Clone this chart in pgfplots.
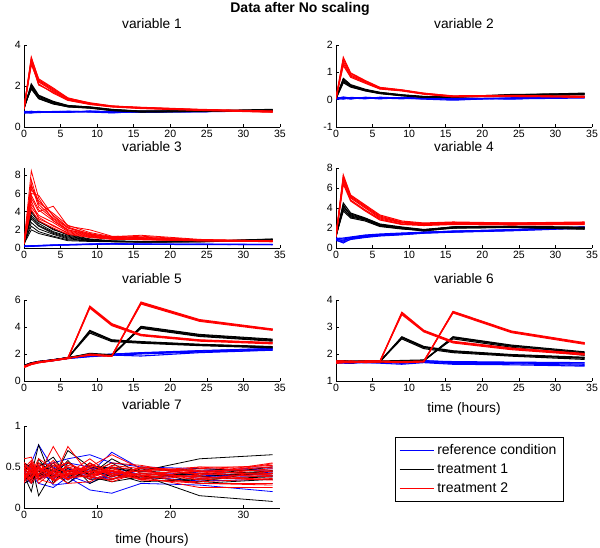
\documentclass[border=0pt]{standalone}
\usepackage{fontspec}
\setmainfont{Liberation Sans}
\usepackage{pgfplots}
\usepackage{pgfplotstable}
\pgfplotsset{compat=1.18}

\pgfplotsset{
  mstyle/.style={
    scale only axis, width=192pt,
    axis x line*=bottom, axis y line*=left, axis line style={-, line width=0.5pt},
    tick align=inside, major tick length=2.2pt, tick style={line width=0.5pt, black},
    xmin=0, xmax=35, xtick={0,5,...,35},
    /pgf/number format/assume math mode=true,
    tick label style={font=\fontsize{7.9}{8}\selectfont},
    xticklabel style={yshift=1pt}, yticklabel style={xshift=1pt},
    title style={at={(0.5,1)}, anchor=base, yshift=6.5pt, font=\fontsize{10.3}{11}\selectfont},
    label style={font=\fontsize{10.3}{11}\selectfont},
    xlabel style={yshift=-1pt},
    every axis plot/.append style={line width=0.8pt},
  },
}

% time points: 0 1 2 4 6 9 12 16 24 34
% ---------------- variable 1
\pgfplotstableread[row sep=\\]{
t c1 c2 c3 c4 c5 c6 \\
0 0.70 0.74 0.76 0.68 0.72 0.75 \\
1 0.68 0.72 0.75 0.70 0.77 0.73 \\
2 0.72 0.70 0.74 0.75 0.71 0.76 \\
4 0.74 0.76 0.73 0.72 0.75 0.71 \\
6 0.73 0.75 0.77 0.71 0.76 0.74 \\
9 0.75 0.77 0.74 0.78 0.73 0.76 \\
12 0.70 0.73 0.72 0.75 0.69 0.74 \\
16 0.74 0.76 0.77 0.73 0.75 0.72 \\
24 0.76 0.75 0.78 0.74 0.77 0.75 \\
34 0.78 0.80 0.76 0.79 0.77 0.81 \\
}\VOneB
\pgfplotstableread[row sep=\\]{
t c1 c2 c3 c4 c5 c6 \\
0 0.90 0.95 1.00 0.92 0.98 0.88 \\
1 2.10 1.95 1.85 2.05 1.90 2.00 \\
2 1.55 1.45 1.40 1.50 1.38 1.52 \\
4 1.25 1.18 1.15 1.22 1.12 1.20 \\
6 1.05 1.00 0.98 1.04 0.99 1.03 \\
9 0.97 0.94 0.92 0.96 0.93 0.98 \\
12 0.85 0.82 0.80 0.84 0.81 0.86 \\
16 0.78 0.75 0.74 0.77 0.73 0.76 \\
24 0.78 0.76 0.75 0.79 0.77 0.78 \\
34 0.84 0.80 0.83 0.86 0.79 0.82 \\
}\VOneK
\pgfplotstableread[row sep=\\]{
t c1 c2 c3 c4 c5 c6 \\
0 0.88 0.92 0.95 0.90 0.86 0.93 \\
1 3.40 3.25 3.10 3.35 3.20 3.05 \\
2 2.30 2.20 2.10 2.35 2.05 2.25 \\
4 1.85 1.75 1.65 1.90 1.70 1.80 \\
6 1.40 1.35 1.30 1.42 1.32 1.38 \\
9 1.18 1.14 1.10 1.16 1.12 1.15 \\
12 1.03 1.00 0.98 1.02 0.99 1.01 \\
16 0.95 0.93 0.90 0.94 0.92 0.96 \\
24 0.85 0.83 0.81 0.84 0.82 0.86 \\
34 0.77 0.74 0.72 0.76 0.73 0.78 \\
}\VOneR
% ---------------- variable 2
\pgfplotstableread[row sep=\\]{
t c1 c2 c3 c4 c5 \\
0 0.05 0.02 0.08 0.04 0.06 \\
1 0.08 0.03 0.05 0.10 0.02 \\
2 0.04 0.07 0.02 0.06 0.08 \\
4 0.06 0.05 0.09 0.03 0.07 \\
6 0.07 0.04 0.06 0.09 0.03 \\
9 0.05 0.08 0.03 0.06 0.07 \\
12 0.03 0.06 0.07 0.02 0.05 \\
16 0.04 0.00 0.05 -0.02 0.06 \\
24 0.06 0.05 0.03 0.07 0.02 \\
34 0.08 0.10 0.06 0.09 0.12 \\
}\VTwoB
\pgfplotstableread[row sep=\\]{
t c1 c2 c3 c4 c5 \\
0 0.05 0.08 0.03 0.06 0.04 \\
1 0.78 0.70 0.62 0.75 0.66 \\
2 0.55 0.50 0.46 0.52 0.48 \\
4 0.38 0.35 0.32 0.36 0.33 \\
6 0.27 0.24 0.22 0.26 0.23 \\
9 0.18 0.15 0.14 0.17 0.16 \\
12 0.12 0.10 0.08 0.11 0.09 \\
16 0.08 0.11 0.12 0.09 0.10 \\
24 0.18 0.15 0.14 0.17 0.19 \\
34 0.22 0.20 0.18 0.24 0.21 \\
}\VTwoK
\pgfplotstableread[row sep=\\]{
t c1 c2 c3 c4 c5 \\
0 0.06 0.04 0.08 0.05 0.03 \\
1 1.55 1.40 1.25 1.48 1.32 \\
2 0.98 0.90 0.82 0.95 0.86 \\
4 0.70 0.66 0.60 0.68 0.63 \\
6 0.45 0.42 0.39 0.44 0.40 \\
9 0.36 0.34 0.32 0.35 0.33 \\
12 0.24 0.22 0.20 0.23 0.21 \\
16 0.13 0.11 0.10 0.14 0.12 \\
24 0.15 0.12 0.14 0.16 0.11 \\
34 0.12 0.09 0.08 0.11 0.13 \\
}\VTwoR
% ---------------- variable 3
\pgfplotstableread[row sep=\\]{
t c1 c2 c3 c4 \\
0 0.15 0.22 0.18 0.25 \\
1 0.18 0.20 0.25 0.22 \\
2 0.22 0.26 0.24 0.28 \\
4 0.28 0.31 0.30 0.34 \\
6 0.33 0.36 0.38 0.35 \\
9 0.38 0.42 0.40 0.44 \\
12 0.45 0.48 0.43 0.47 \\
16 0.42 0.40 0.44 0.39 \\
24 0.40 0.38 0.42 0.41 \\
34 0.37 0.40 0.36 0.39 \\
}\VThrB
\pgfplotstableread[row sep=\\]{
t c1 c2 c3 c4 c5 c6 c7 c8 \\
0 0.50 0.40 0.60 0.30 0.50 0.40 0.45 0.55 \\
1 4.10 3.60 3.20 2.80 2.40 3.90 2.00 3.40 \\
2 3.00 2.70 2.40 2.10 1.80 2.90 1.60 2.50 \\
4 2.00 1.80 1.60 1.50 1.30 2.10 1.20 1.70 \\
6 1.50 1.30 1.10 1.00 0.90 1.40 0.80 1.20 \\
9 1.00 0.90 0.85 0.80 0.78 0.95 0.72 0.88 \\
12 0.80 0.75 0.70 0.72 0.70 0.78 0.68 0.74 \\
16 0.70 0.70 0.68 0.66 0.65 0.72 0.64 0.69 \\
24 0.75 0.72 0.70 0.68 0.70 0.74 0.66 0.71 \\
34 1.00 0.95 0.90 0.85 0.92 0.98 0.88 0.95 \\
}\VThrK
\pgfplotstableread[row sep=\\]{
t c1 c2 c3 c4 c5 c6 c7 c8 c9 c10 c11 c12 \\
0 0.60 0.50 0.70 0.40 0.60 0.50 0.55 0.45 0.65 0.50 0.60 0.40 \\
1 8.50 6.00 5.50 7.00 4.80 6.50 5.20 7.50 4.20 5.80 6.80 4.50 \\
2 5.50 5.80 4.00 4.50 3.60 5.00 3.20 4.80 3.00 4.20 5.20 3.40 \\
4 3.00 3.50 4.60 3.20 2.80 3.80 2.50 3.30 2.20 3.00 3.60 2.40 \\
6 2.00 2.20 2.40 2.00 1.80 2.50 1.60 2.20 1.50 1.90 2.30 1.70 \\
9 1.50 1.60 2.00 1.40 1.30 1.70 1.20 1.45 1.15 1.35 1.55 1.25 \\
12 1.20 1.10 1.30 1.15 1.00 1.25 1.00 1.10 0.95 1.05 1.20 1.00 \\
16 1.00 1.30 1.20 1.10 0.95 1.40 0.90 1.05 0.92 1.00 1.15 0.98 \\
24 0.85 0.90 0.88 0.82 0.80 0.95 0.78 0.86 0.80 0.84 0.90 0.82 \\
34 0.75 0.80 0.72 0.70 0.68 0.78 0.70 0.74 0.72 0.76 0.80 0.73 \\
}\VThrR
% ---------------- variable 4
\pgfplotstableread[row sep=\\]{
t c1 c2 c3 c4 c5 c6 \\
0 0.80 0.90 1.00 0.85 0.95 0.75 \\
1 0.50 0.70 0.90 0.80 1.00 0.60 \\
2 0.90 1.00 1.05 0.95 1.10 0.85 \\
4 1.10 1.20 1.25 1.15 1.30 1.05 \\
6 1.25 1.30 1.35 1.28 1.40 1.20 \\
9 1.35 1.45 1.40 1.38 1.50 1.32 \\
12 1.50 1.55 1.60 1.52 1.58 1.48 \\
16 1.60 1.70 1.65 1.62 1.68 1.58 \\
24 1.75 1.80 1.85 1.78 1.82 1.72 \\
34 2.00 2.10 2.05 2.08 2.12 1.98 \\
}\VFouB
\pgfplotstableread[row sep=\\]{
t c1 c2 c3 c4 c5 c6 \\
0 1.20 1.10 1.30 1.15 1.25 1.20 \\
1 4.50 4.20 3.90 4.00 3.70 4.30 \\
2 3.50 3.30 3.10 3.40 3.00 3.20 \\
4 3.00 2.90 2.80 2.95 2.70 2.85 \\
6 2.40 2.30 2.20 2.35 2.15 2.25 \\
9 2.10 2.00 1.95 2.05 1.90 2.00 \\
12 1.85 1.80 1.70 1.82 1.75 1.78 \\
16 2.10 2.05 2.00 2.08 1.98 2.12 \\
24 2.15 2.10 2.05 2.12 2.08 2.18 \\
34 2.05 1.95 1.90 2.02 1.88 2.08 \\
}\VFouK
\pgfplotstableread[row sep=\\]{
t c1 c2 c3 c4 c5 c6 \\
0 1.20 1.10 1.30 1.15 1.25 1.20 \\
1 7.30 7.00 6.60 6.80 6.40 7.10 \\
2 5.30 5.10 4.80 5.00 4.70 5.20 \\
4 4.30 4.10 3.80 4.00 3.70 4.20 \\
6 3.30 3.10 2.90 3.00 2.80 3.20 \\
9 2.70 2.55 2.40 2.50 2.35 2.60 \\
12 2.50 2.40 2.30 2.35 2.25 2.45 \\
16 2.60 2.50 2.40 2.45 2.35 2.55 \\
24 2.50 2.45 2.35 2.40 2.30 2.50 \\
34 2.60 2.50 2.40 2.45 2.35 2.55 \\
}\VFouR
% ---------------- variable 5
\pgfplotstableread[row sep=\\]{
t c1 c2 c3 c4 c5 \\
0 1.10 1.05 1.15 1.08 1.12 \\
1 1.30 1.25 1.35 1.28 1.32 \\
2 1.40 1.38 1.45 1.42 1.36 \\
4 1.55 1.52 1.58 1.50 1.56 \\
6 1.70 1.66 1.72 1.68 1.74 \\
9 1.85 1.80 1.88 1.82 1.86 \\
12 1.95 1.90 1.98 1.92 2.00 \\
16 2.05 2.00 2.10 1.85 2.08 \\
24 2.20 2.15 2.25 2.10 2.22 \\
34 2.35 2.30 2.40 2.28 2.42 \\
}\VFivB
\pgfplotstableread[row sep=\\]{
t c1 c2 c3 c4 c5 c6 c7 c8 \\
0 1.10 1.05 1.15 1.12 1.10 1.05 1.15 1.12 \\
1 1.30 1.28 1.35 1.32 1.30 1.28 1.35 1.32 \\
2 1.40 1.38 1.42 1.45 1.40 1.38 1.42 1.45 \\
4 1.55 1.52 1.58 1.56 1.55 1.52 1.58 1.56 \\
6 1.70 1.68 1.72 1.74 1.70 1.68 1.72 1.74 \\
9 3.75 3.65 3.55 3.70 2.00 1.95 2.05 1.98 \\
12 3.05 2.98 2.92 3.02 1.90 1.85 1.95 1.92 \\
16 2.92 2.85 2.80 2.88 4.05 3.95 3.90 4.00 \\
24 2.72 2.66 2.62 2.70 3.45 3.35 3.30 3.40 \\
34 2.55 2.48 2.45 2.52 3.10 3.00 2.95 3.05 \\
}\VFivK
\pgfplotstableread[row sep=\\]{
t c1 c2 c3 c4 c5 c6 c7 c8 \\
0 1.05 1.10 1.00 1.08 1.05 1.10 1.00 1.08 \\
1 1.25 1.30 1.22 1.28 1.25 1.30 1.22 1.28 \\
2 1.38 1.42 1.35 1.40 1.38 1.42 1.35 1.40 \\
4 1.52 1.55 1.50 1.54 1.52 1.55 1.50 1.54 \\
6 1.68 1.72 1.66 1.70 1.68 1.72 1.66 1.70 \\
9 5.55 5.45 5.40 5.50 1.95 1.90 2.00 1.92 \\
12 4.25 4.15 4.10 4.20 1.85 1.82 1.88 1.84 \\
16 3.45 3.40 3.35 3.42 5.85 5.75 5.70 5.80 \\
24 3.05 3.00 2.95 3.02 4.55 4.48 4.42 4.50 \\
34 2.85 2.80 2.75 2.82 3.85 3.80 3.75 3.82 \\
}\VFivR
% ---------------- variable 6
\pgfplotstableread[row sep=\\]{
t c1 c2 c3 c4 c5 \\
0 1.70 1.65 1.72 1.68 1.74 \\
1 1.72 1.68 1.70 1.66 1.73 \\
2 1.68 1.70 1.72 1.65 1.71 \\
4 1.70 1.67 1.73 1.69 1.72 \\
6 1.72 1.68 1.70 1.66 1.71 \\
9 1.65 1.70 1.68 1.62 1.69 \\
12 1.72 1.70 1.74 1.68 1.76 \\
16 1.68 1.65 1.72 1.62 1.70 \\
24 1.67 1.64 1.70 1.60 1.68 \\
34 1.62 1.58 1.68 1.55 1.66 \\
}\VSixB
\pgfplotstableread[row sep=\\]{
t c1 c2 c3 c4 c5 c6 c7 c8 \\
0 1.70 1.68 1.74 1.72 1.70 1.68 1.74 1.72 \\
1 1.72 1.70 1.75 1.73 1.72 1.70 1.75 1.73 \\
2 1.70 1.68 1.72 1.74 1.70 1.68 1.72 1.74 \\
4 1.72 1.70 1.74 1.73 1.72 1.70 1.74 1.73 \\
6 1.72 1.70 1.74 1.73 1.72 1.70 1.74 1.73 \\
9 2.64 2.60 2.56 2.62 1.74 1.72 1.76 1.73 \\
12 2.28 2.24 2.20 2.26 1.76 1.74 1.78 1.75 \\
16 2.12 2.08 2.05 2.10 2.64 2.60 2.56 2.62 \\
24 1.98 1.95 1.92 1.96 2.33 2.29 2.25 2.30 \\
34 1.88 1.84 1.80 1.86 2.08 2.03 1.95 2.05 \\
}\VSixK
\pgfplotstableread[row sep=\\]{
t c1 c2 c3 c4 c5 c6 c7 c8 \\
0 1.70 1.66 1.74 1.68 1.70 1.66 1.74 1.68 \\
1 1.72 1.68 1.74 1.70 1.72 1.68 1.74 1.70 \\
2 1.70 1.68 1.72 1.74 1.70 1.68 1.72 1.74 \\
4 1.72 1.70 1.74 1.68 1.72 1.70 1.74 1.68 \\
6 1.72 1.70 1.74 1.73 1.72 1.70 1.74 1.73 \\
9 3.55 3.50 3.46 3.52 1.70 1.68 1.72 1.71 \\
12 2.88 2.85 2.82 2.86 1.72 1.70 1.74 1.73 \\
16 2.47 2.44 2.41 2.45 3.58 3.55 3.52 3.56 \\
24 2.22 2.19 2.16 2.20 2.85 2.82 2.79 2.83 \\
34 2.02 1.99 1.96 2.00 2.42 2.39 2.36 2.40 \\
}\VSixR
% ---------------- variable 7
\pgfplotstableread[row sep=\\]{
t c1 c2 c3 c4 c5 c6 c7 c8 c9 c10 \\
0 0.42 0.35 0.50 0.38 0.45 0.30 0.55 0.40 0.48 0.33 \\
1 0.55 0.40 0.45 0.30 0.50 0.35 0.48 0.42 0.38 0.45 \\
2 0.77 0.30 0.52 0.42 0.40 0.45 0.38 0.50 0.35 0.48 \\
4 0.48 0.25 0.55 0.40 0.35 0.50 0.45 0.28 0.42 0.38 \\
6 0.45 0.38 0.60 0.35 0.48 0.42 0.55 0.30 0.50 0.40 \\
9 0.40 0.22 0.65 0.45 0.42 0.38 0.50 0.48 0.35 0.30 \\
12 0.42 0.18 0.55 0.40 0.68 0.35 0.45 0.50 0.38 0.44 \\
16 0.45 0.30 0.50 0.38 0.48 0.42 0.35 0.40 0.46 0.36 \\
24 0.40 0.28 0.48 0.33 0.45 0.38 0.42 0.30 0.36 0.44 \\
34 0.38 0.20 0.45 0.35 0.50 0.42 0.40 0.30 0.44 0.48 \\
}\VSevB
\pgfplotstableread[row sep=\\]{
t c1 c2 c3 c4 c5 c6 c7 c8 c9 c10 \\
0 0.40 0.45 0.35 0.50 0.30 0.55 0.42 0.38 0.48 0.33 \\
1 0.20 0.55 0.40 0.45 0.35 0.50 0.30 0.48 0.38 0.42 \\
2 0.60 0.15 0.77 0.40 0.45 0.35 0.50 0.42 0.55 0.38 \\
4 0.35 0.45 0.30 0.55 0.40 0.48 0.62 0.38 0.45 0.52 \\
6 0.70 0.40 0.55 0.35 0.48 0.45 0.38 0.58 0.30 0.42 \\
9 0.50 0.45 0.40 0.55 0.35 0.42 0.48 0.30 0.52 0.38 \\
12 0.45 0.50 0.60 0.40 0.35 0.55 0.38 0.42 0.48 0.32 \\
16 0.40 0.45 0.42 0.38 0.48 0.35 0.50 0.32 0.44 0.38 \\
24 0.15 0.60 0.38 0.42 0.30 0.45 0.40 0.35 0.48 0.32 \\
34 0.08 0.65 0.45 0.40 0.35 0.42 0.50 0.38 0.44 0.46 \\
}\VSevK
\pgfplotstableread[row sep=\\]{
t c1 c2 c3 c4 c5 c6 c7 c8 c9 c10 c11 c12 c13 c14 c15 c16 c17 c18 c19 c20 \\
0 0.60 0.40 0.45 0.35 0.50 0.30 0.55 0.42 0.38 0.48 0.36 0.44 0.52 0.34 0.46 0.40 0.56 0.32 0.48 0.38 \\
1 0.62 0.35 0.50 0.45 0.38 0.55 0.42 0.30 0.48 0.40 0.52 0.36 0.44 0.48 0.32 0.56 0.42 0.38 0.58 0.46 \\
2 0.40 0.50 0.30 0.55 0.45 0.35 0.60 0.42 0.38 0.48 0.36 0.52 0.40 0.46 0.55 0.34 0.48 0.42 0.38 0.50 \\
4 0.75 0.35 0.45 0.40 0.55 0.30 0.48 0.50 0.38 0.42 0.45 0.33 0.48 0.52 0.38 0.44 0.36 0.58 0.46 0.34 \\
6 0.45 0.75 0.35 0.50 0.40 0.45 0.38 0.55 0.42 0.30 0.50 0.40 0.36 0.44 0.52 0.34 0.46 0.40 0.56 0.42 \\
9 0.50 0.40 0.55 0.35 0.45 0.48 0.38 0.42 0.60 0.32 0.44 0.50 0.40 0.36 0.46 0.52 0.40 0.54 0.38 0.44 \\
12 0.65 0.45 0.38 0.50 0.42 0.35 0.48 0.55 0.40 0.45 0.32 0.40 0.46 0.52 0.36 0.44 0.50 0.42 0.34 0.46 \\
16 0.48 0.40 0.50 0.35 0.45 0.42 0.38 0.52 0.46 0.40 0.44 0.36 0.34 0.48 0.42 0.38 0.46 0.36 0.50 0.40 \\
24 0.42 0.35 0.45 0.30 0.50 0.38 0.25 0.40 0.36 0.48 0.42 0.46 0.32 0.44 0.38 0.50 0.34 0.40 0.44 0.30 \\
34 0.55 0.45 0.40 0.30 0.50 0.35 0.25 0.48 0.42 0.52 0.38 0.46 0.36 0.50 0.34 0.44 0.40 0.54 0.42 0.28 \\
}\VSevR

\begin{document}
\begin{tikzpicture}
\path[use as bounding box] (0,0) rectangle (450pt,410.25pt);
\node[font=\fontsize{10.5}{12}\selectfont\bfseries, anchor=base] at (225pt,400.5pt) {Data after No scaling};

% variable 1
\begin{axis}[mstyle, at={(18pt,315pt)}, height=61.5pt, ymin=0, ymax=4, ytick={0,2,4}, title={variable 1}]
\pgfplotsinvokeforeach{1,...,6}{\addplot[blue, forget plot] table[x=t,y=c#1]{\VOneB};}
\pgfplotsinvokeforeach{1,...,6}{\addplot[black, forget plot] table[x=t,y=c#1]{\VOneK};}
\pgfplotsinvokeforeach{1,...,6}{\addplot[red, forget plot] table[x=t,y=c#1]{\VOneR};}
\end{axis}

% variable 2
\begin{axis}[mstyle, at={(252pt,315pt)}, height=61.5pt, ymin=-1, ymax=2, ytick={-1,0,1,2}, title={variable 2}]
\pgfplotsinvokeforeach{1,...,5}{\addplot[blue, forget plot] table[x=t,y=c#1]{\VTwoB};}
\pgfplotsinvokeforeach{1,...,5}{\addplot[black, forget plot] table[x=t,y=c#1]{\VTwoK};}
\pgfplotsinvokeforeach{1,...,5}{\addplot[red, forget plot] table[x=t,y=c#1]{\VTwoR};}
\end{axis}

% variable 3
\begin{axis}[mstyle, at={(18pt,224.25pt)}, height=60pt, ymin=0, ymax=8.8, ytick={0,2,4,6,8}, title={variable 3}]
\pgfplotsinvokeforeach{1,...,4}{\addplot[blue, forget plot] table[x=t,y=c#1]{\VThrB};}
\pgfplotsinvokeforeach{1,...,8}{\addplot[black, forget plot, line width=0.6pt] table[x=t,y=c#1]{\VThrK};}
\pgfplotsinvokeforeach{1,...,12}{\addplot[red, forget plot, line width=0.6pt] table[x=t,y=c#1]{\VThrR};}
\end{axis}

% variable 4
\begin{axis}[mstyle, at={(252pt,224.25pt)}, height=60pt, ymin=0, ymax=8, ytick={0,2,4,6,8}, title={variable 4}]
\pgfplotsinvokeforeach{1,...,6}{\addplot[blue, forget plot] table[x=t,y=c#1]{\VFouB};}
\pgfplotsinvokeforeach{1,...,6}{\addplot[black, forget plot] table[x=t,y=c#1]{\VFouK};}
\pgfplotsinvokeforeach{1,...,6}{\addplot[red, forget plot] table[x=t,y=c#1]{\VFouR};}
\end{axis}

% variable 5
\begin{axis}[mstyle, at={(18pt,124.5pt)}, height=60.75pt, ymin=0, ymax=6, ytick={0,2,4,6}, title={variable 5}]
\pgfplotsinvokeforeach{1,...,5}{\addplot[blue, forget plot] table[x=t,y=c#1]{\VFivB};}
\pgfplotsinvokeforeach{1,...,8}{\addplot[black, forget plot] table[x=t,y=c#1]{\VFivK};}
\pgfplotsinvokeforeach{1,...,8}{\addplot[red, forget plot] table[x=t,y=c#1]{\VFivR};}
\end{axis}

% variable 6
\begin{axis}[mstyle, at={(252pt,124.5pt)}, height=60.75pt, ymin=1, ymax=4, ytick={1,2,3,4}, title={variable 6}, xlabel={time (hours)}]
\pgfplotsinvokeforeach{1,...,5}{\addplot[blue, forget plot] table[x=t,y=c#1]{\VSixB};}
\pgfplotsinvokeforeach{1,...,8}{\addplot[black, forget plot] table[x=t,y=c#1]{\VSixK};}
\pgfplotsinvokeforeach{1,...,8}{\addplot[red, forget plot] table[x=t,y=c#1]{\VSixR};}
\end{axis}

% variable 7
\begin{axis}[mstyle, at={(18pt,29.25pt)}, height=61.5pt, ymin=0, ymax=1, ytick={0,0.5,1}, xtick={0,10,20,30},
  title={variable 7}, xlabel={time (hours)}, xlabel style={yshift=-3pt},
  legend style={at={(1.449,0.866)}, anchor=north west, draw=black, line width=0.5pt, fill=white,
    font=\fontsize{10.5}{11}\selectfont, inner xsep=3pt, inner ysep=3pt, row sep=1.5pt},
  legend cell align=left,
  legend image code/.code={\draw[#1, line width=0.5pt] (0pt,0pt) -- (26pt,0pt);}]
\pgfplotsinvokeforeach{1,...,10}{\addplot[blue, forget plot, line width=0.6pt] table[x=t,y=c#1]{\VSevB};}
\pgfplotsinvokeforeach{1,...,10}{\addplot[black, forget plot, line width=0.6pt] table[x=t,y=c#1]{\VSevK};}
\pgfplotsinvokeforeach{1,...,20}{\addplot[red, forget plot, line width=0.6pt] table[x=t,y=c#1]{\VSevR};}
\addlegendimage{blue}\addlegendentry{reference condition}
\addlegendimage{black}\addlegendentry{treatment 1}
\addlegendimage{red}\addlegendentry{treatment 2}
\end{axis}
\end{tikzpicture}
\end{document}
